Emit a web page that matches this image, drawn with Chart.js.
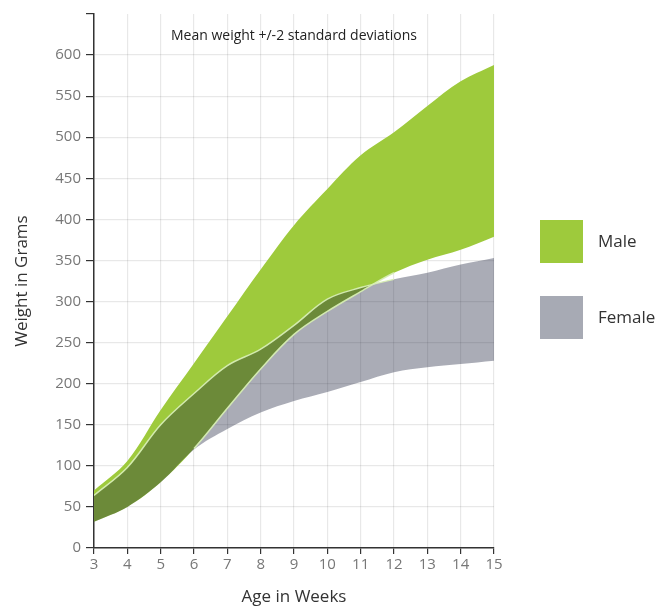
<!DOCTYPE html>
<html>
<head>
<meta charset="utf-8">
<script src="https://cdn.jsdelivr.net/npm/chart.js@4/dist/chart.umd.min.js"></script>
<style>
  html, body { margin: 0; padding: 0; background: #fff; }
  #wrap { position: relative; width: 666px; height: 609px; font-family: "Open Sans", "Noto Sans", sans-serif; }
  #c { position: absolute; left: 0; top: 0; }
  .ttl { position: absolute; left: 94px; width: 400px; top: 25px; text-align: center; font-size: 14px; color: #222; }
  .lg { position: absolute; left: 540px; width: 43px; height: 43px; }
  .lt { position: absolute; left: 598px; font-size: 17px; color: #333; line-height: 20px; }
</style>
</head>
<body>
<div id="wrap">
  <canvas id="c" width="666" height="609"></canvas>
  <div class="ttl">Mean weight +/-2 standard deviations</div>
  <div class="lg" style="top:220px;background:rgb(158,202,60);"></div>
  <div class="lt" style="top:231px;">Male</div>
  <div class="lg" style="top:296px;background:rgb(167,170,180);"></div>
  <div class="lt" style="top:307px;">Female</div>
</div>
<script>
const weeks       = [3, 4, 5, 6, 7, 8, 9, 10, 11, 12, 13, 14, 15];
const maleUpper   = [70, 106, 168, 225, 282, 339, 393, 437, 478, 506, 538, 568, 588];
const maleLower   = [32, 50, 80, 121, 170, 218, 260, 288, 312, 335, 351, 363, 379];
const femaleUpper = [64, 98, 150, 188, 222, 242, 271, 303, 317, 327, 335, 345, 353];
const femaleLower = [32, 50, 80, 120, 145, 165, 179, 190, 202, 214, 220, 224, 228];
const yTicks = { min: 0, max: 650, step: 50 };

const pts = arr => weeks.map((w, i) => ({ x: w, y: arr[i] }));
const edge = 'rgba(215,238,180,0.95)';
const none = 'rgba(0,0,0,0)';
// pale edge only where the band borders the overlap region
const edgeSeg = (from, to) => ctx => (ctx.p0DataIndex >= from && ctx.p0DataIndex < to ? edge : none);

new Chart(document.getElementById('c'), {
  type: 'line',
  data: {
    datasets: [
      { label: 'maleLowerEdge', data: pts(maleLower), borderColor: edge, borderWidth: 1.5, fill: false, pointRadius: 0, tension: 0.35,
        segment: { borderColor: edgeSeg(3, 9) } },
      { label: 'Female', data: pts(femaleUpper), borderColor: edge, borderWidth: 1.5, backgroundColor: 'rgba(20,25,52,0.36)', fill: '+1', pointRadius: 0, tension: 0.35,
        segment: { borderColor: edgeSeg(0, 9) } },
      { label: 'FemaleLow', data: pts(femaleLower), borderWidth: 0, borderColor: none, fill: false, pointRadius: 0, tension: 0.35 },
      { label: 'Male', data: pts(maleUpper), borderWidth: 0, borderColor: none, backgroundColor: 'rgb(158,202,60)', fill: '+1', pointRadius: 0, tension: 0.35 },
      { label: 'MaleLow', data: pts(maleLower), borderWidth: 0, borderColor: none, fill: false, pointRadius: 0, tension: 0.35 }
    ]
  },
  options: {
    responsive: false,
    animation: false,
    layout: { padding: { top: 9, right: 172, left: 0, bottom: 0 } },
    plugins: { legend: { display: false }, tooltip: { enabled: false } },
    scales: {
      x: {
        type: 'linear', min: 3, max: 15, z: 1,
        ticks: { stepSize: 1, color: '#777', font: { family: 'Open Sans', size: 15 }, padding: 2 },
        grid: { color: 'rgba(0,0,0,0.09)', tickColor: '#333', tickLength: 6, lineWidth: 1.2 },
        border: { color: '#333', width: 1.5 },
        title: { display: true, text: 'Age in Weeks', color: '#333', font: { family: 'Open Sans', size: 17 }, padding: { top: 0, bottom: 2 } },
        afterFit: s => { s.height = 61; }
      },
      y: {
        min: yTicks.min, max: yTicks.max, z: 1,
        ticks: { stepSize: yTicks.step, color: '#777', font: { family: 'Open Sans', size: 15 }, padding: 5,
                 callback: v => (v === yTicks.max ? '' : v) },
        grid: { color: c => (c.tick && c.tick.value === yTicks.max ? none : 'rgba(0,0,0,0.09)'), tickColor: '#333', tickLength: 8, lineWidth: 1.2 },
        border: { color: '#333', width: 1.5 },
        title: { display: true, text: 'Weight in Grams', color: '#333', font: { family: 'Open Sans', size: 17 }, padding: { top: 12, bottom: 0 } },
        afterFit: s => { s.width = 94; }
      }
    }
  }
});
</script>
</body>
</html>
